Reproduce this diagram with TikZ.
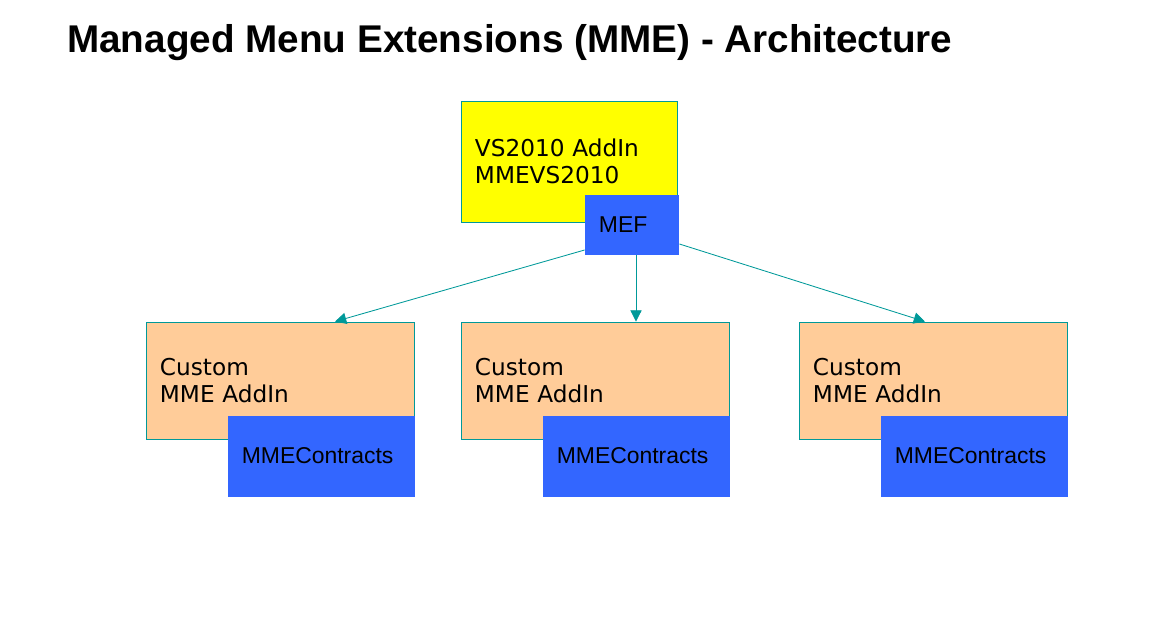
\documentclass[tikz,border=0pt]{standalone}
\usepackage{fontspec}
\setmainfont{DejaVu Sans}
\newfontfamily\arialfont{Liberation Sans}
\usetikzlibrary{arrows.meta}

\definecolor{addinyellow}{HTML}{FFFF00}
\definecolor{custompeach}{HTML}{FFCC99}
\definecolor{mefblue}{HTML}{3366FF}
\definecolor{edgeteal}{HTML}{009999}

\begin{document}
\begin{tikzpicture}[x=0.025cm,y=-0.025cm]
    \tikzstyle{box}=[draw=edgeteal,line width=0.6pt,align=left,inner ysep=0pt,inner xsep=0.35cm]
    \tikzstyle{host}=[box,fill=addinyellow,text width=4.7cm,minimum height=3.025cm,font=\fontsize{16.5}{19.2}\selectfont]
    \tikzstyle{custom}=[box,fill=custompeach,text width=6cm,minimum height=2.925cm,font=\fontsize{16.5}{19.2}\selectfont]
    \tikzstyle{part}=[box,draw=none,fill=mefblue,font=\arialfont\fontsize{16.3}{19}\selectfont]
    \tikzstyle{link}=[draw=edgeteal,line width=0.6pt,-{Triangle[length=8pt,width=8pt]}]

    \useasboundingbox (0,0) rectangle (1163,619);
    \node[anchor=base west,inner sep=0pt,font=\arialfont\bfseries\fontsize{27.5}{32}\selectfont] (title) at (67,52)
        {Managed Menu Extensions (MME) - Architecture};

    \node[host] (VS) at (569,161.5) {VS2010 AddIn\\MMEVS2010};
    \node[part,text width=1.65cm,minimum height=1.5cm] (MEF) at (632,225) {MEF};

    \foreach \name/\x in {A/280, B/595, C/933} {
        \node[custom] (custom-\name) at (\x,380.5) {Custom\\MME AddIn};
        \node[part,text width=3.975cm,minimum height=2.025cm,anchor=south east]
            (contracts-\name) at ([xshift=0.6pt]custom-\name.south east |- 0,497) {MMEContracts};
    }

    \draw[link] (MEF.south west |- 0,250) -- (custom-A.north -| 335,0);
    \draw[link] (MEF.south -| 636,0) -- (custom-B.north -| 636,0);
    \draw[link] (MEF.east |- 0,244) -- (custom-C.north -| 925,0);
\end{tikzpicture}
\end{document}
